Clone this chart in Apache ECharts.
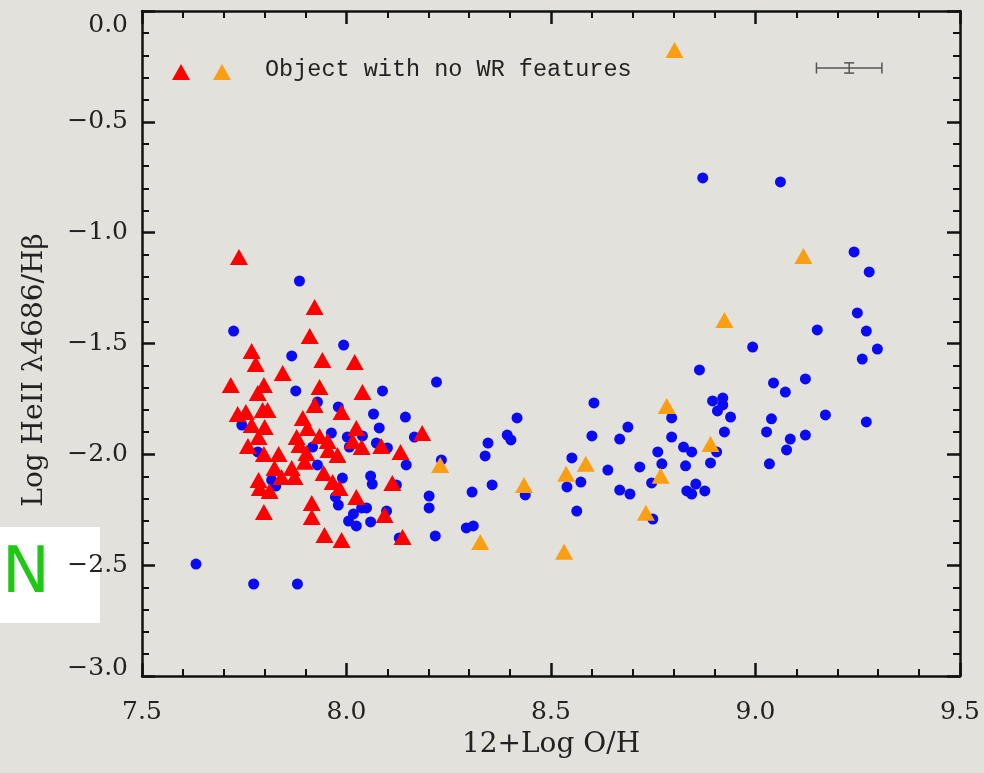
<!DOCTYPE html>
<html><head><meta charset="utf-8">
<script src="https://cdn.jsdelivr.net/npm/echarts@6/dist/echarts.min.js"></script>
<style>html,body{margin:0;padding:0;background:#e3e1dc}#c{width:984px;height:773px}</style>
</head><body><div id="c"></div>
<script>
// Axis ranges / ticks
const xTicks = [7.5, 8.0, 8.5, 9.0, 9.5];
const yTicks = [0.0, -0.5, -1.0, -1.5, -2.0, -2.5, -3.0];

// Blue circles
const blueX = [7.632,7.773,7.880,7.724,7.885,7.866,7.993,7.876,8.088,8.220,8.066,8.144,8.080,8.166,7.963,8.002,8.039,8.007,8.073,8.100,
8.146,7.929,7.990,8.059,8.063,8.122,8.202,8.202,7.973,7.980,8.049,8.037,8.098,8.017,8.005,8.024,8.059,8.217,8.232,8.129,
7.744,7.783,7.817,7.827,7.917,7.929,7.980,8.417,8.393,8.402,8.346,8.339,8.356,8.307,8.293,8.310,8.437,8.605,8.600,8.688,
8.668,8.551,8.573,8.539,8.563,8.639,8.668,8.693,8.717,8.746,8.761,8.771,8.795,8.795,8.824,8.844,8.829,8.854,8.832,8.844,
8.876,8.890,8.905,8.863,8.895,8.920,8.907,8.920,8.939,8.924,8.749,8.871,9.061,9.241,9.278,9.249,9.271,9.298,9.261,9.151,
8.993,9.044,9.073,9.122,9.039,9.171,9.271,9.027,9.122,9.085,9.076,9.034];
const blueY = [-2.495,-2.585,-2.585,-1.444,-1.218,-1.556,-1.507,-1.714,-1.714,-1.674,-1.818,-1.832,-1.881,-1.922,-1.904,-1.922,-1.917,-1.967,-1.949,-1.971,
-2.048,-2.048,-2.107,-2.098,-2.134,-2.138,-2.188,-2.242,-2.192,-2.229,-2.242,-2.242,-2.256,-2.269,-2.301,-2.323,-2.305,-2.368,-2.025,-2.377,
-1.868,-1.989,-2.116,-2.143,-1.967,-1.764,-1.786,-1.836,-1.913,-1.935,-1.949,-2.007,-2.138,-2.170,-2.332,-2.323,-2.183,-1.768,-1.917,-1.877,
-1.931,-2.016,-2.125,-2.147,-2.256,-2.071,-2.161,-2.179,-2.057,-2.129,-1.989,-2.043,-1.836,-1.922,-1.967,-1.989,-2.052,-2.134,-2.165,-2.179,
-2.165,-2.039,-1.989,-1.619,-1.759,-1.746,-1.804,-1.777,-1.832,-1.899,-2.292,-0.753,-0.771,-1.087,-1.177,-1.362,-1.444,-1.525,-1.570,-1.439,
-1.516,-1.678,-1.719,-1.660,-1.840,-1.822,-1.854,-1.899,-1.913,-1.931,-1.980,-2.043];

// Red triangles
const redX = [7.737,7.922,7.910,7.768,7.941,8.020,7.778,7.844,7.717,7.798,7.934,8.039,7.783,7.922,7.734,7.754,7.795,7.807,7.988,7.768,
7.800,7.893,8.024,7.905,7.934,7.878,8.185,7.785,8.015,7.954,8.085,8.037,7.759,8.132,7.885,7.902,7.798,7.834,7.978,7.956,
7.898,7.824,7.866,7.841,7.873,7.944,7.785,7.966,7.983,8.112,7.788,7.812,8.024,7.915,7.915,8.093,7.798,7.946,7.988,8.137];
const redY = [-1.110,-1.335,-1.466,-1.534,-1.574,-1.583,-1.592,-1.633,-1.687,-1.687,-1.696,-1.719,-1.723,-1.777,-1.818,-1.809,-1.800,-1.800,-1.809,-1.868,
-1.877,-1.836,-1.881,-1.881,-1.917,-1.922,-1.904,-1.922,-1.940,-1.940,-1.962,-1.967,-1.962,-1.989,-1.958,-1.994,-1.998,-1.998,-2.003,-1.980,
-2.034,-2.062,-2.062,-2.102,-2.102,-2.084,-2.116,-2.125,-2.152,-2.129,-2.152,-2.165,-2.192,-2.219,-2.283,-2.274,-2.260,-2.364,-2.386,-2.373];

// Orange triangles (objects with no WR features)
const orangeX = [8.802,9.117,8.924,8.783,8.890,8.229,8.585,8.537,8.768,8.434,8.732,8.327,8.532];
const orangeY = [-0.176,-1.105,-1.394,-1.782,-1.953,-2.048,-2.043,-2.088,-2.097,-2.138,-2.264,-2.395,-2.440];

// Representative error bar: center x, center y, half-width x, half-height y
const errX = [9.229], errY = [-0.257], errDX = [0.080], errDY = [0.023];

const legendText = 'Object with no WR features';
const xName = '12+Log O/H';
const yName = 'Log HeII λ4686/Hβ';

const zip = (a, b) => a.map((v, i) => [v, b[i]]);
const fmt = v => v.toFixed(1).replace('-', '\u2212');
const serif = 'DejaVu Serif';
const ink = '#111';

function axisBase(extra) {
  return Object.assign({
    type: 'value',
    splitLine: { show: false },
    axisLine: { show: true, onZero: false, lineStyle: { color: ink, width: 2.5 } },
    axisTick: { show: true, inside: true, length: 13, lineStyle: { color: ink, width: 2.5 } },
    minorTick: { show: true, splitNumber: 5, length: 7, lineStyle: { color: ink, width: 2 } },
    minorSplitLine: { show: false }
  }, extra);
}

const chart = echarts.init(document.getElementById('c'), null, { renderer: 'canvas' });
chart.setOption({
  backgroundColor: '#e3e1dc',
  animation: false,
  grid: { left: 142, top: 11, width: 818, height: 665, containLabel: false },
  xAxis: [
    axisBase({ position: 'bottom', min: xTicks[0], max: xTicks[xTicks.length - 1], interval: 0.5,
      name: xName, nameLocation: 'middle', nameGap: 55,
      nameTextStyle: { fontFamily: serif, fontSize: 28, color: '#222' },
      axisLabel: { margin: 24, fontFamily: serif, fontSize: 25, color: '#222', formatter: fmt } }),
    axisBase({ position: 'top', min: xTicks[0], max: xTicks[xTicks.length - 1], interval: 0.5,
      axisLabel: { show: false } })
  ],
  yAxis: [
    axisBase({ position: 'left', min: yTicks[yTicks.length - 1], max: yTicks[0], interval: 0.5,
      axisLabel: { margin: 14, fontFamily: serif, fontSize: 25, color: '#222',
        formatter: v => v === 0 ? '{t|0.0}' : (v === -3 ? '{b|' + fmt(v) + '}' : fmt(v)),
        rich: {
          t: { fontFamily: serif, fontSize: 25, color: '#222', padding: [28, 0, 0, 0] },
          b: { fontFamily: serif, fontSize: 25, color: '#222', padding: [0, 0, 16, 0] }
        } } }),
    axisBase({ position: 'right', min: yTicks[yTicks.length - 1], max: yTicks[0], interval: 0.5,
      axisLabel: { show: false } })
  ],
  series: [
    { type: 'scatter', name: 'blue', data: zip(blueX, blueY), symbol: 'circle', symbolSize: 11,
      itemStyle: { color: '#0a0af5', opacity: 1 }, z: 2 },
    { type: 'scatter', name: 'red', data: zip(redX, redY), symbol: 'triangle', symbolSize: [18, 16],
      itemStyle: { color: '#ff0000', opacity: 1 }, z: 3 },
    { type: 'scatter', name: legendText, data: zip(orangeX, orangeY), symbol: 'triangle', symbolSize: [18, 16],
      itemStyle: { color: '#fb9e12', opacity: 1 }, z: 4 },
    { type: 'custom', name: 'errbar', z: 5,
      data: errX.map((v, i) => [v, errY[i], errDX[i], errDY[i]]),
      renderItem: (params, api) => {
        const cx = api.value(0), cy = api.value(1), dx = api.value(2), dy = api.value(3);
        const L = api.coord([cx - dx, cy]), R = api.coord([cx + dx, cy]);
        const T = api.coord([cx, cy + dy]), B = api.coord([cx, cy - dy]);
        const st = { stroke: '#555', lineWidth: 1.5 };
        const cap = 5.5, capw = 5;
        const ln = (x1, y1, x2, y2) => ({ type: 'line', shape: { x1, y1, x2, y2 }, style: st });
        return { type: 'group', children: [
          ln(L[0], L[1], R[0], R[1]),
          ln(L[0], L[1] - cap, L[0], L[1] + cap),
          ln(R[0], R[1] - cap, R[0], R[1] + cap),
          ln(T[0], T[1], B[0], B[1]),
          ln(T[0] - capw, T[1], T[0] + capw, T[1]),
          ln(B[0] - capw, B[1], B[0] + capw, B[1])
        ] };
      } }
  ],
  graphic: [
    { type: 'polygon', shape: { points: [[172, 80], [190, 80], [181, 64]] }, style: { fill: '#ff0000' } },
    { type: 'polygon', shape: { points: [[213, 80], [231, 80], [222, 64]] }, style: { fill: '#fb9e12' } },
    { type: 'text', x: 265, y: 70, style: { text: legendText, fontFamily: 'Liberation Mono', fontSize: 23.5,
      fill: '#222', verticalAlign: 'middle', align: 'left' } },
    { type: 'text', x: 35, y: 370, rotation: Math.PI / 2, style: { text: yName, fontFamily: serif, fontSize: 28,
      fill: '#222', align: 'center', verticalAlign: 'middle' } },
    { type: 'rect', shape: { x: 0, y: 527, width: 100, height: 96 }, style: { fill: '#ffffff' } },
    { type: 'text', x: 2, y: 575, style: { text: 'N', fontFamily: 'DejaVu Sans', fontSize: 64,
      fill: '#1ec814', verticalAlign: 'middle', align: 'left' } }
  ]
});
</script>
</body></html>
